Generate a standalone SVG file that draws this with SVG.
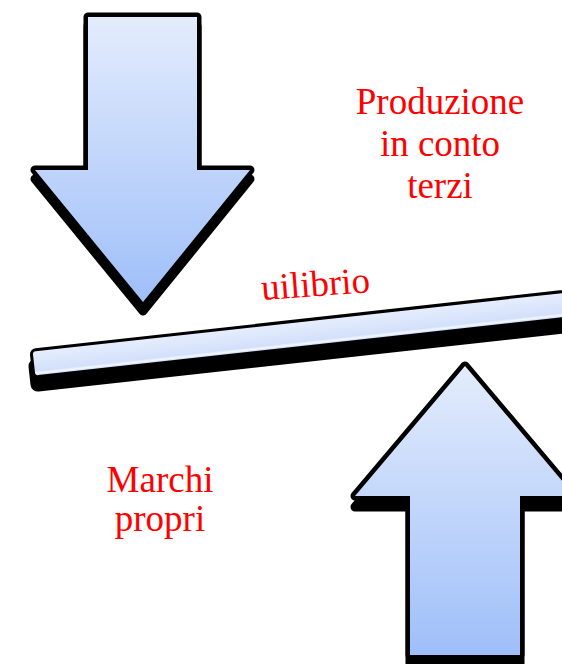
<svg xmlns="http://www.w3.org/2000/svg" width="562" height="664" viewBox="0 0 562 664">
  <defs>
    <linearGradient id="arrowGrad" x1="0" y1="0" x2="0" y2="1">
      <stop offset="0" stop-color="#e3ecfc"/>
      <stop offset="1" stop-color="#9fbff9"/>
    </linearGradient>
    <linearGradient id="barGrad" x1="0" y1="0" x2="0" y2="1">
      <stop offset="0" stop-color="#e6eefd"/>
      <stop offset="0.82" stop-color="#d3e0fb"/>
      <stop offset="0.92" stop-color="#f4f8ff"/>
      <stop offset="1" stop-color="#c8d8f8"/>
    </linearGradient>
  </defs>
  <style>
    .shadow { fill: #000; stroke: #000; stroke-width: 9; stroke-linejoin: round; }
    .shape { fill: url(#arrowGrad); stroke: #000; stroke-width: 9; stroke-linejoin: round; paint-order: stroke; }
    .bar { fill: url(#barGrad); stroke: #000; stroke-width: 6; stroke-linejoin: round; paint-order: stroke; }
    .label { font-family: "Liberation Serif", "Times New Roman", serif; font-size: 37px; fill: #ff0000; text-anchor: middle; }
  </style>

  <g id="arrow-down">
    <path class="shadow" transform="translate(0,9)" d="M88,17 H197 V170 H250 L143,302 L35,170 H88 Z"/>
    <path class="shape" d="M88,17 H197 V170 H250 L143,302 L35,170 H88 Z"/>
  </g>

  <g id="arrow-up">
    <path class="shadow" transform="translate(0,11)" d="M465,366 L575,496 H520 V655 H410 V496 H355 Z"/>
    <path class="shape" d="M465,366 L575,496 H520 V655 H410 V496 H355 Z"/>
  </g>

  <g id="beam">
    <g transform="translate(0,12)">
      <rect class="shadow" x="0" y="-12" width="620" height="24" rx="3" transform="translate(34,363.5) rotate(-6.3)"/>
    </g>
    <rect class="bar" x="0" y="-12" width="620" height="24" rx="3" transform="translate(34,363.5) rotate(-6.3)"/>
    <text class="label" style="text-anchor:start" transform="translate(262,300) rotate(-4.2)">uilibrio</text>
  </g>

  <g id="label-produzione">
    <text class="label" x="440" y="114">Produzione</text>
    <text class="label" x="440" y="156">in conto</text>
    <text class="label" x="440" y="198">terzi</text>
  </g>

  <g id="label-marchi">
    <text class="label" x="160" y="492">Marchi</text>
    <text class="label" x="160" y="531">propri</text>
  </g>
</svg>
